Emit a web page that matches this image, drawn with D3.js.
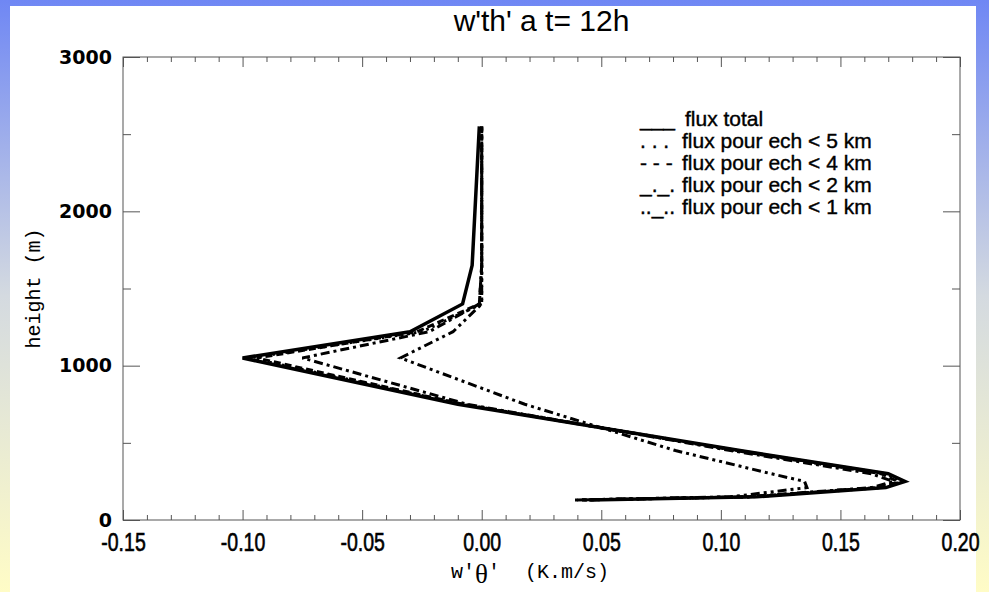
<!DOCTYPE html>
<html>
<head>
<meta charset="utf-8">
<script src="https://cdn.jsdelivr.net/npm/d3@7"></script>
<style>
body { margin: 0; background: #fff; }
svg { display: block; }
</style>
</head>
<body>
<svg width="989" height="592"></svg>
<script>
"use strict";

// Data (heights in m, flux in K.m/s).

var Heights  = [130, 150, 210, 250, 300, 450, 750, 1050, 1220, 1400, 1650, 2550];
var FluxTotal = [0.045, 0.115, 0.169, 0.177, 0.170, 0.108, -0.010, -0.100, -0.030, -0.008, -0.004, -0.001];
var Flux5km   = [0.043, 0.113, 0.167, 0.176, 0.169, 0.107, -0.008, -0.097, -0.025,  0.000,  0.000,  0.000];
var Flux4km   = [0.042, 0.112, 0.165, 0.174, 0.167, 0.106, -0.008, -0.094, -0.027, -0.001,  0.000,  0.000];
var Flux2km   = [0.040, 0.110, 0.163, 0.172, 0.163, 0.104, -0.006, -0.075, -0.022, -0.001,  0.000,  0.000];
var Flux1km   = [0.039, 0.104, 0.136, 0.135, 0.121, 0.081,  0.018, -0.034, -0.012,  0.000,  0.000,  0.000];

var LegendMarks  = ["___", ". . .", "- - -", "_._.", ".._.."];
var LegendLabels = ["flux total", "flux pour ech < 5 km", "flux pour ech < 4 km",
                    "flux pour ech < 2 km", "flux pour ech < 1 km"];

var XMajorTicks = [-0.15, -0.10, -0.05, 0.00, 0.05, 0.10, 0.15, 0.20];
var YMajorTicks = [0, 1000, 2000, 3000];
var YMinorTicks = [500, 1500, 2500];

var Title = "w'th' a t= 12h";

// Layout.

var svg = d3.select("svg");
var width = +svg.attr("width");
var height = +svg.attr("height");

var Left = 123, Right = 960, Top = 57, Bottom = 520;
var AxisColor = "#555";

var x = d3.scaleLinear().domain([-0.15, 0.20]).range([Left, Right]);
var y = d3.scaleLinear().domain([0, 3000]).range([Bottom, Top]);

// Background: blue to pale yellow gradient with a white sheet on it.

var grad = svg.append("defs").append("linearGradient")
    .attr("id", "bg").attr("x1", 0).attr("y1", 0).attr("x2", 0).attr("y2", 1);
grad.append("stop").attr("offset", "0%").attr("stop-color", "#6f87f4");
grad.append("stop").attr("offset", "50%").attr("stop-color", "#d4dae0");
grad.append("stop").attr("offset", "100%").attr("stop-color", "#fffcc6");

svg.append("rect").attr("width", width).attr("height", height).attr("fill", "url(#bg)");
svg.append("rect").attr("x", 10).attr("y", 6).attr("width", 966).attr("height", height - 6)
    .attr("fill", "#fff");

// Minor x ticks every 0.01.

var xMinor = d3.range(-15, 21).map(function(d){ return d/100; })
    .filter(function(d){ return Math.round(d*100) % 5 != 0; });

var DrawAxis = function(axis, tx, ty){
    var g = svg.append("g").attr("transform", "translate(" + tx + "," + ty + ")").call(axis);
    g.select(".domain").remove();
    g.selectAll("line").attr("stroke", AxisColor);
    return g;
}

var fmtX = d3.format(".2f");

// Bottom labels are narrow in the picture: squeeze them horizontally.
var gx = DrawAxis(d3.axisBottom(x).tickValues(XMajorTicks).tickSize(-10).tickPadding(13)
    .tickFormat(function(d){ return fmtX(d).replace("\u2212", "-"); }), 0, Bottom);
gx.selectAll("text")
    .style("font-family", "'Liberation Sans', Arial, sans-serif")
    .style("font-size", "25px").attr("fill", "#000")
    .attr("stroke", "#000").attr("stroke-width", 0.6)
    .attr("transform", "scale(0.78,1)");
DrawAxis(d3.axisBottom(x).tickValues(xMinor).tickSize(-5).tickFormat(""), 0, Bottom);
DrawAxis(d3.axisTop(x).tickValues(XMajorTicks).tickSize(-10).tickFormat(""), 0, Top);
DrawAxis(d3.axisTop(x).tickValues(xMinor).tickSize(-5).tickFormat(""), 0, Top);

var gy = DrawAxis(d3.axisLeft(y).tickValues(YMajorTicks).tickSize(-17).tickPadding(11)
    .tickFormat(d3.format("d")), Left, 0);
gy.selectAll("text")
    .style("font-family", "'DejaVu Sans', sans-serif").style("font-weight", "bold")
    .style("font-size", "19px").attr("fill", "#000");
DrawAxis(d3.axisLeft(y).tickValues(YMinorTicks).tickSize(-8).tickFormat(""), Left, 0);
DrawAxis(d3.axisRight(y).tickValues(YMajorTicks).tickSize(-17).tickFormat(""), Right, 0);
DrawAxis(d3.axisRight(y).tickValues(YMinorTicks).tickSize(-8).tickFormat(""), Right, 0);

// Frame.

svg.append("rect")
    .attr("x", Left).attr("y", Top).attr("width", Right - Left).attr("height", Bottom - Top)
    .attr("fill", "none").attr("stroke", AxisColor).attr("stroke-width", 1);

// Profiles.

var series = [
    {values: FluxTotal, dash: null,              w: 3.5},
    {values: Flux5km,   dash: "2.5,4",           w: 3},
    {values: Flux4km,   dash: "7,4",             w: 3},
    {values: Flux2km,   dash: "9,4,3,4",         w: 3},
    {values: Flux1km,   dash: "3,4,3,4,9,4",     w: 3}
];

var line = d3.line()
    .x(function(d){ return x(d[0]); })
    .y(function(d){ return y(d[1]); });

svg.selectAll("path.profile")
    .data(series)
    .enter()
    .append("path")
        .attr("class", "profile")
        .attr("d", function(s){ return line(s.values.map(function(v, i){ return [v, Heights[i]]; })); })
        .attr("fill", "none")
        .attr("stroke", "#000")
        .attr("stroke-width", function(s){ return s.w; })
        .attr("stroke-dasharray", function(s){ return s.dash; })
        .attr("stroke-linejoin", "miter");

// Legend (written as text, marks included).

var LegendFont = "'Liberation Sans', Arial, sans-serif";
var legend = svg.append("g").style("font-family", LegendFont).style("font-size", "21px")
    .attr("stroke", "#000").attr("stroke-width", 0.4);

legend.selectAll("text.mark")
    .data(LegendMarks)
    .enter().append("text")
        .attr("class", "mark")
        .attr("x", 640)
        .attr("y", function(d, i){ return 126 + 22*i; })
        .text(function(d){ return d; });

legend.selectAll("text.label")
    .data(LegendLabels)
    .enter().append("text")
        .attr("class", "label")
        .attr("x", function(d, i){ return i == 0 ? 685 : 682; })
        .attr("y", function(d, i){ return 126 + 22*i; })
        .text(function(d){ return d; });

// Title and axis titles.

svg.append("text")
    .attr("x", (Left + Right)/2).attr("y", 31)
    .attr("text-anchor", "middle")
    .style("font-family", "'Liberation Sans', Arial, sans-serif")
    .style("font-size", "30px")
    .text(Title);

svg.append("text")
    .attr("transform", "translate(40," + (Top + Bottom)/2 + ") rotate(-90)")
    .attr("text-anchor", "middle")
    .style("font-family", "'Liberation Mono', monospace")
    .style("font-size", "20px")
    .text("height (m)");

var xt = svg.append("text")
    .attr("x", 451).attr("y", 578)
    .style("font-family", "'Liberation Mono', monospace")
    .style("font-size", "20px");
xt.append("tspan").text("w'");
xt.append("tspan").attr("dy", 5).style("font-family", "'Liberation Serif', serif")
    .style("font-size", "27px").text("\u03b8");
xt.append("tspan").attr("dy", -5).text("'");
xt.append("tspan").attr("x", 525).text("(K.m/s)");
</script>
</body>
</html>
